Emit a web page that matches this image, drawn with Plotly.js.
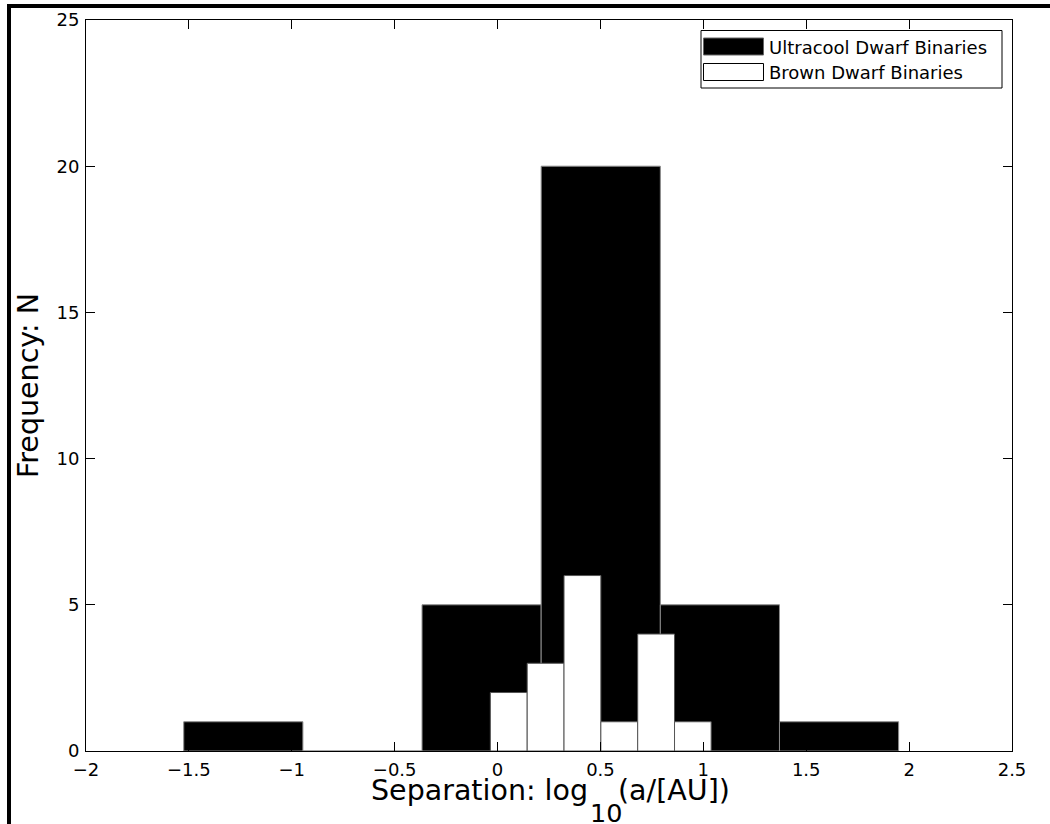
<!DOCTYPE html>
<html>
<head>
<meta charset="utf-8">
<script src="https://cdn.plot.ly/plotly-3.0.1.min.js"></script>
<style>
  html, body { margin: 0; padding: 0; background: #fff; }
  #wrap { position: relative; width: 1050px; height: 824px; overflow: hidden; }
  #chart { position: absolute; left: 0; top: 0; width: 1050px; height: 824px; }
  #frame { position: absolute; left: 7px; top: 4px; width: 1100px; height: 900px;
           border-left: 4px solid #000; border-top: 4px solid #000; pointer-events: none; }
</style>
</head>
<body>
<div id="wrap">
  <div id="chart"></div>
  <div id="frame"></div>
</div>
<script>
// Ultracool dwarf binaries histogram (bin edges and counts)
const ucdEdges  = [-1.525, -0.946, -0.367, 0.212, 0.791, 1.370, 1.949];
const ucdCounts = [1, 0, 5, 20, 5, 1];
// Brown dwarf binaries histogram
const bdEdges   = [-0.035, 0.144, 0.323, 0.502, 0.681, 0.860, 1.038];
const bdCounts  = [2, 3, 6, 1, 4, 1];

const seriesNames = ["Ultracool Dwarf Binaries", "Brown Dwarf Binaries"];
const xTicks = [-2, -1.5, -1, -0.5, 0, 0.5, 1, 1.5, 2, 2.5];
const yTicks = [0, 5, 10, 15, 20, 25];
const xTitleParts = ["Separation: log", "10", "(a/[AU])"];
const yTitle = "Frequency: N";

function centers(e) { const c = []; for (let i = 0; i < e.length - 1; i++) c.push((e[i] + e[i+1]) / 2); return c; }
function widths(e)  { const w = []; for (let i = 0; i < e.length - 1; i++) w.push(e[i+1] - e[i]); return w; }

const FONT = "DejaVu Sans, Liberation Sans, sans-serif";

const traces = [
  { type: "bar", name: seriesNames[0], x: centers(ucdEdges), y: ucdCounts, width: widths(ucdEdges),
    marker: { color: "#000000", line: { color: "#8a8a8a", width: 1 } }, showlegend: false, hoverinfo: "x+y" },
  { type: "bar", name: seriesNames[1], x: centers(bdEdges), y: bdCounts, width: widths(bdEdges),
    marker: { color: "#ffffff", line: { color: "#555555", width: 1 } }, showlegend: false, hoverinfo: "x+y" }
];

// plot area in pixels
const L = 86, T = 20, R = 1012, B = 751;
const W = R - L, H = B - T;
const px = (x) => (x - L) / W;
const py = (y) => 1 - (y - T) / H;

const shapes = [
  { type: "rect", xref: "paper", yref: "paper", x0: px(701), x1: px(1002), y0: py(88), y1: py(30.5),
    line: { color: "#000", width: 1 }, fillcolor: "#fff", layer: "above" },
  { type: "rect", xref: "paper", yref: "paper", x0: px(703.5), x1: px(763.5), y0: py(55), y1: py(38),
    line: { color: "#666", width: 1 }, fillcolor: "#000", layer: "above" },
  { type: "rect", xref: "paper", yref: "paper", x0: px(703.5), x1: px(763.5), y0: py(80.5), y1: py(63.5),
    line: { color: "#000", width: 1 }, fillcolor: "#fff", layer: "above" }
];

const annotations = [
  { xref: "paper", yref: "paper", x: px(767), y: py(47), xanchor: "left", yanchor: "middle",
    text: seriesNames[0], showarrow: false, font: { family: FONT, size: 18, color: "#000" } },
  { xref: "paper", yref: "paper", x: px(767), y: py(72.5), xanchor: "left", yanchor: "middle",
    text: seriesNames[1], showarrow: false, font: { family: FONT, size: 18, color: "#000" } },
  // x-axis title pieces (matplotlib-style detached subscript)
  { xref: "paper", yref: "paper", x: px(369), y: py(790), xanchor: "left", yanchor: "middle",
    text: xTitleParts[0], showarrow: false, font: { family: FONT, size: 28.5, color: "#000" } },
  { xref: "paper", yref: "paper", x: px(588), y: py(812.5), xanchor: "left", yanchor: "middle",
    text: xTitleParts[1], showarrow: false, font: { family: FONT, size: 25.5, color: "#000" } },
  { xref: "paper", yref: "paper", x: px(616), y: py(790), xanchor: "left", yanchor: "middle",
    text: xTitleParts[2], showarrow: false, font: { family: FONT, size: 28.5, color: "#000" } }
];

const layout = {
  width: 1050, height: 824,
  margin: { l: L, r: 1050 - R, t: T, b: 824 - B, pad: 0 },
  paper_bgcolor: "#fff", plot_bgcolor: "#fff",
  barmode: "overlay", bargap: 0,
  showlegend: false,
  font: { family: FONT, color: "#000", size: 18 },
  xaxis: {
    range: [-2, 2.5], tickvals: xTicks, ticks: "inside", ticklen: 9, tickwidth: 1, tickcolor: "#000",
    showline: true, linecolor: "#000", linewidth: 1, mirror: "ticks", showgrid: false, zeroline: false,
    tickfont: { family: FONT, size: 18, color: "#000" }, ticklabelstandoff: 2
  },
  yaxis: {
    range: [0, 25], tickvals: yTicks, ticks: "inside", ticklen: 9, tickwidth: 1, tickcolor: "#000",
    showline: true, linecolor: "#000", linewidth: 1, mirror: "ticks", showgrid: false, zeroline: false,
    tickfont: { family: FONT, size: 18, color: "#000" }, ticklabelstandoff: 2,
    title: { text: yTitle, font: { family: FONT, size: 28.5, color: "#000" }, standoff: 9 }
  },
  shapes: shapes,
  annotations: annotations
};

Plotly.newPlot("chart", traces, layout, { displayModeBar: false, staticPlot: true });
</script>
</body>
</html>
